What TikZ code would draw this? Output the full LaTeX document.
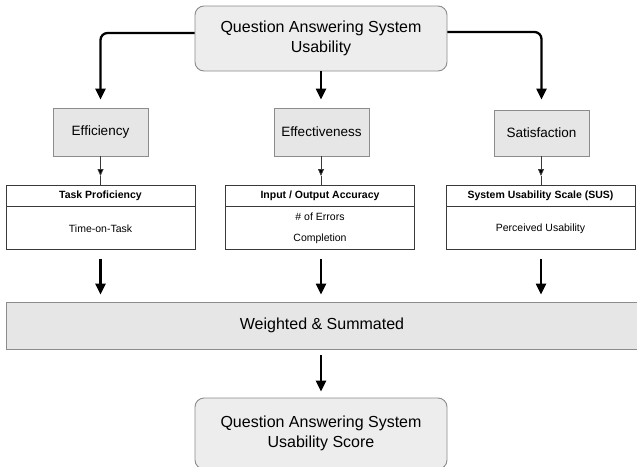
\documentclass[tikz,border=0pt]{standalone}
\usepackage{fontspec}
\setmainfont{Liberation Sans}
\usetikzlibrary{arrows.meta}
\definecolor{boxfill}{HTML}{E6E6E6}
\definecolor{topfill}{HTML}{EDEDED}
\definecolor{boxdraw}{HTML}{8C8C8C}
\definecolor{tbldraw}{HTML}{3A3A3A}
\begin{document}
\begin{tikzpicture}[x=1pt,y=-1pt,
  gbox/.style={draw=boxdraw, fill=boxfill, line width=0.9pt, inner sep=0pt, align=center},
  rbox/.style={gbox, fill=topfill, rounded corners=9pt, minimum width=252pt},
  tblhead/.style={draw=tbldraw, fill=white, line width=0.8pt, inner sep=0pt, minimum width=189pt, minimum height=21pt, font=\fontsize{10.5}{13}\selectfont\bfseries},
  tblbody/.style={draw=tbldraw, fill=white, line width=0.8pt, inner sep=0pt, minimum width=189pt, minimum height=43pt, align=center, font=\fontsize{10.5}{20.5}\selectfont},
  bigarrow/.style={line width=2.3pt, -{Triangle[width=10pt,length=11pt]}},
  thinarrow/.style={line width=0.8pt, draw=tbldraw, -{Triangle[width=6pt,length=7pt,fill=black]}},
  thinline/.style={line width=0.8pt, draw=tbldraw},
  bigtext/.style={font=\fontsize{16}{20}\selectfont},
  midtext/.style={font=\fontsize{13.5}{16}\selectfont},
]
\useasboundingbox (0,0) rectangle (637,466);
\clip (0,0) rectangle (637,466);
\fill[white] (0,0) rectangle (637,466);

% top box
\node[rbox, minimum height=65pt, bigtext] (top) at (321,38.5) {Question Answering System\\Usability};

% second row
\node[gbox, minimum width=95pt, minimum height=48pt, midtext] (eff) at (100.5,132) {Efficiency};
\node[gbox, minimum width=95pt, minimum height=48pt, midtext] (effv) at (321.5,132) {Effectiveness};
\node[gbox, minimum width=95pt, minimum height=46pt, midtext] (sat) at (541.5,133) {Satisfaction};

% tables
\node[tblhead] (tph) at (100.5,195.5) {Task Proficiency};
\node[tblbody, anchor=north] (tpb) at (tph.south) {Time-on-Task};
\node[tblhead] (ioh) at (320,195.5) {Input / Output Accuracy};
\node[tblbody, anchor=north] (iob) at (ioh.south) {\# of Errors\\Completion};
\node[tblhead] (sush) at (540.5,195.5) {System Usability Scale (SUS)};
\node[tblbody, anchor=north] (susb) at (sush.south) {Perceived Usability};

% weighted box
\node[gbox, minimum width=632pt, minimum height=47pt, bigtext] (ws) at (322,325.5) {Weighted \& Summated};

% bottom box
\node[rbox, minimum height=71pt, bigtext] (bot) at (321,433.5) {Question Answering System\\Usability Score};

% arrows from top box
\draw[bigarrow, rounded corners=7pt, shorten >=8pt] (top.west |- 0,33) -| (eff.north);
\draw[bigarrow, shorten >=8pt] (top.south) -- (top.south |- effv.north);
\draw[bigarrow, rounded corners=7pt, shorten >=10pt] (top.east |- 0,32) -| (sat.north);

% thin arrows to tables
\coordinate (t1) at (100.5,176);
\coordinate (t2) at (321,176);
\coordinate (t3) at (541,176);
\draw[thinarrow] (eff.south) -- (t1);
\draw[thinline] (t1) -- (tph.north -| t1);
\draw[thinarrow] (effv.south -| t2) -- (t2);
\draw[thinline] (t2) -- (ioh.north -| t2);
\draw[thinarrow] (sat.south -| t3) -- (t3);
\draw[thinline] (t3) -- (sush.north -| t3);

% thick arrows to weighted box
\draw[bigarrow, shorten <=9pt, shorten >=7pt] (tpb.south) -- (ws.north -| tpb.south);
\draw[bigarrow, shorten <=9pt, shorten >=7pt] (iob.south -| t2) -- (ws.north -| t2);
\draw[bigarrow, shorten <=9pt, shorten >=7pt] (susb.south -| t3) -- (ws.north -| t3);

% final arrow
\draw[bigarrow, shorten <=6pt, shorten >=6pt] (ws.south -| bot.north) -- (bot.north);
\end{tikzpicture}
\end{document}
